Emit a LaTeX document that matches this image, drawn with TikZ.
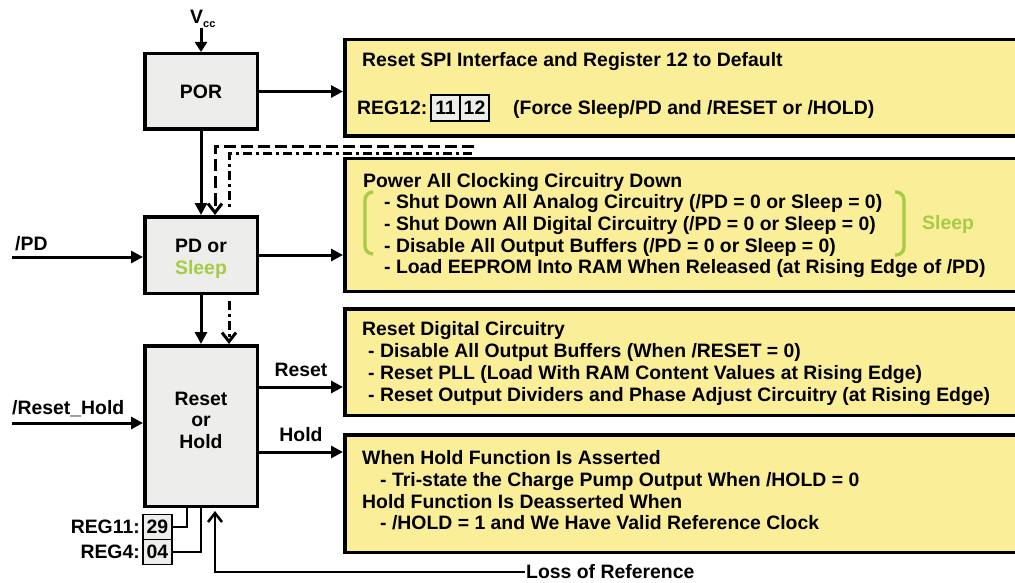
\documentclass[tikz,border=0pt]{standalone}
\usepackage{fontspec}
\setmainfont{Liberation Sans}
\usetikzlibrary{arrows.meta,positioning}
\definecolor{notefill}{RGB}{250,238,152}
\definecolor{blockfill}{RGB}{237,238,236}
\definecolor{sleepgreen}{RGB}{166,204,70}

\begin{document}
\begin{tikzpicture}[x=1pt,y=-1pt,font=\fontsize{19.4}{21.6}\selectfont\bfseries]
  \tikzset{
    block/.style={draw, rectangle, fill=blockfill, line width=3.5pt, minimum width=112.5pt, align=center, inner sep=0pt},
    note/.style={draw, rectangle, fill=notefill, line width=3.5pt, anchor=north west, minimum width=700pt, inner sep=0pt},
    txt/.style={anchor=base west, inner sep=0pt},
    reg/.style={draw, rectangle, fill=blockfill, line width=1.5pt, minimum width=29pt, minimum height=25pt, inner sep=0pt, outer sep=0pt},
    line/.style={draw, line width=3pt, -{Triangle[length=12pt,width=12pt]}},
    wake/.style={draw, line width=3pt, dash pattern=on 12pt off 5pt},
    sleepwake/.style={draw, line width=3pt, dash pattern=on 9pt off 4pt on 3pt off 4pt},
    barb/.style={-{Straight Barb[length=9pt,width=14pt]}},
    thin/.style={draw, line width=1.5pt},
    brace/.style={draw, sleepgreen, line width=3.3pt, rounded corners=8pt},
  }
  \useasboundingbox (0,0) rectangle (1015,583);
  \clip (0,0) rectangle (1015,583);

  % left column
  \node [block, minimum height=75.5pt] (por) at (201,91.5) {POR};
  \node [block, minimum height=76.5pt, text height=43pt, below of=por, node distance=163.5pt] (pd) {PD or\\\textcolor{sleepgreen}{Sleep}};
  \node [block, minimum height=160.5pt, text depth=12pt, below of=pd, node distance=171pt] (rh) {Reset\\or\\Hold};

  % yellow notes
  \node [note, minimum height=96.5pt] (note1) at (343,38) {};
  \node [note, minimum height=132.5pt] (note2) at (343,157) {};
  \node [note, minimum height=106.5pt] (note3) at (343,307) {};
  \node [note, minimum height=117.5pt] (note4) at (343,433) {};

  \node [txt] at (362,67) {Reset SPI Interface and Register 12 to Default};
  \node [reg, minimum height=26pt] (reg12a) at (445.5,108) {11};
  \node [reg, minimum height=26pt, right=0pt of reg12a] (reg12b) {12};
  \node [txt] at (357,115) {REG12:};
  \node [txt] at (513,115) {(Force Sleep/PD and /RESET or /HOLD)};

  \node [txt] at (363,187) {Power All Clocking Circuitry Down};
  \node [txt] at (384,208.7) {- Shut Down All Analog Circuitry (/PD = 0 or Sleep = 0)};
  \node [txt] at (384,230.3) {- Shut Down All Digital Circuitry (/PD = 0 or Sleep = 0)};
  \node [txt] at (384,252) {- Disable All Output Buffers (/PD = 0 or Sleep = 0)};
  \node [txt] at (384,273.7) {- Load EEPROM Into RAM When Released (at Rising Edge of /PD)};
  \draw [brace] (373,192) -- (365,192) -- (365,254) -- (373,254);
  \draw [brace] (895,192) -- (904,192) -- (904,255) -- (895,255);
  \node [txt, sleepgreen] at (922,229) {Sleep};

  \node [txt] at (362,335) {Reset Digital Circuitry};
  \node [txt] at (368,357) {- Disable All Output Buffers (When /RESET = 0)};
  \node [txt] at (368,379) {- Reset PLL (Load With RAM Content Values at Rising Edge)};
  \node [txt] at (368,401) {- Reset Output Dividers and Phase Adjust Circuitry (at Rising Edge)};

  \node [txt] at (362,464) {When Hold Function Is Asserted};
  \node [txt] at (380,486) {- Tri-state the Charge Pump Output When /HOLD = 0};
  \node [txt] at (362,508) {Hold Function Is Deasserted When};
  \node [txt] at (380,529) {- /HOLD = 1 and We Have Valid Reference Clock};

  % registers under Reset or Hold
  \node [reg] (reg11) at (157.5,527) {29};
  \node [reg, below=0pt of reg11] (reg4) {04};
  \node [inner sep=0pt, left=3pt of reg11] {REG11:};
  \node [inner sep=0pt, left=3pt of reg4] {REG4:};

  % inputs
  \node [txt, inner sep=0pt] (vcc) at (190,24) {V\raisebox{-4pt}{\fontsize{11}{11}\selectfont cc}};
  \draw [line, -{Triangle[length=10pt,width=12pt]}] (vcc.south -| por.north) -- (por.north);
  \coordinate (pdin) at (12,257);
  \draw [line] (pdin) -- (pdin -| pd.west);
  \node [txt] at (15,250) {/PD};
  \coordinate (rhin) at (12,423);
  \draw [line] (rhin) -- (rhin -| rh.west);
  \node [txt] at (12,414) {/Reset\_Hold};

  % connectors
  \draw [line] (por.east) -- (por.east -| note1.west);
  \draw [line] (por) -- (pd);
  \draw [line] (pd.east) -- (pd.east -| note2.west);
  \draw [line] (pd) -- (rh);
  \draw [line] ([yshift=39pt]rh.east) -- node[above=9pt, inner sep=0pt]{Reset} ([yshift=39pt]rh.east -| note3.west);
  \draw [line] ([yshift=-26pt]rh.east) -- node[above=9pt, inner sep=0pt]{Hold} ([yshift=-26pt]rh.east -| note4.west);

  \coordinate (wakept) at (474,146.5);
  \draw [wake, barb] (wakept) -| ([xshift=14pt]pd.north);
  \coordinate (sleeppt) at (472,154);
  \draw [sleepwake, shorten >=6pt] (sleeppt) -| ([xshift=28pt]pd.north);
  \draw [sleepwake, barb, shorten <=6pt] ([xshift=28pt]pd.south) -- ([xshift=28pt]rh.north);

  \draw [thin] (reg11.east) -| ([xshift=-14pt]rh.south);
  \draw [thin] (reg4.east) -| (rh.south);

  \node [inner sep=1pt, anchor=west] (lor) at (525,572) {Loss of Reference};
  \draw [line width=2.5pt, barb, shorten >=3pt] (lor.west) -| ([xshift=14pt]rh.south);
\end{tikzpicture}
\end{document}
